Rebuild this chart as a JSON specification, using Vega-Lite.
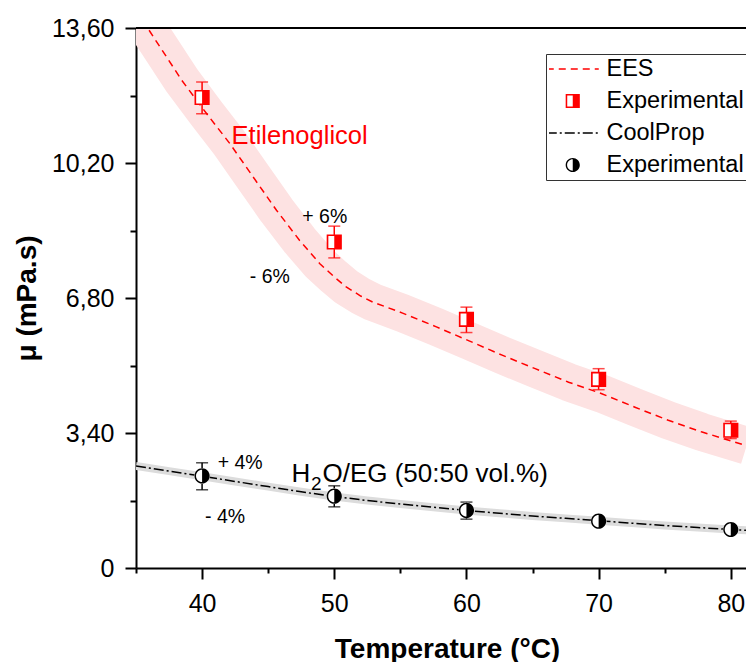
{
  "$schema": "https://vega.github.io/schema/vega-lite/v6.json",
  "width": 610,
  "height": 540,
  "autosize": {"type": "none"},
  "padding": {"left": 136, "top": 28, "right": 0, "bottom": 94},
  "background": "white",
  "config": {
    "view": {"stroke": null},
    "font": "Liberation Sans",
    "axis": {"grid": false, "domainColor": "black", "domainWidth": 2, "tickColor": "black", "tickWidth": 2, "labelColor": "black", "titleColor": "black", "labelFont": "Liberation Sans", "titleFont": "Liberation Sans"},
    "legend": {"orient": "none", "legendX": 410, "legendY": 26, "strokeColor": "#333333", "fillColor": "white", "padding": 3, "symbolSize": 2704, "symbolStrokeWidth": 1.5, "symbolOffset": 12, "clipHeight": 24, "rowPadding": 8, "labelOffset": 22, "labelFont": "Liberation Sans", "labelFontSize": 23.5, "labelColor": "black", "labelLimit": 400}
  },
  "datasets": {
    "ees": [
      {"T": 35, "v": 14.05, "series": "EES"},
      {"T": 36.33, "v": 13.37, "series": "EES"},
      {"T": 38.47, "v": 12.28, "series": "EES"},
      {"T": 40.35, "v": 11.44, "series": "EES"},
      {"T": 42.1, "v": 10.69, "series": "EES"},
      {"T": 43.86, "v": 9.85, "series": "EES"},
      {"T": 45.63, "v": 9.01, "series": "EES"},
      {"T": 47.38, "v": 8.25, "series": "EES"},
      {"T": 48.89, "v": 7.67, "series": "EES"},
      {"T": 50.0, "v": 7.33, "series": "EES"},
      {"T": 50.9, "v": 7.08, "series": "EES"},
      {"T": 52.0, "v": 6.85, "series": "EES"},
      {"T": 52.9, "v": 6.70, "series": "EES"},
      {"T": 55.17, "v": 6.42, "series": "EES"},
      {"T": 57.68, "v": 6.08, "series": "EES"},
      {"T": 60.2, "v": 5.72, "series": "EES"},
      {"T": 62.7, "v": 5.36, "series": "EES"},
      {"T": 65.2, "v": 5.02, "series": "EES"},
      {"T": 67.73, "v": 4.68, "series": "EES"},
      {"T": 70.24, "v": 4.39, "series": "EES"},
      {"T": 72.75, "v": 4.05, "series": "EES"},
      {"T": 75.27, "v": 3.72, "series": "EES"},
      {"T": 77.77, "v": 3.43, "series": "EES"},
      {"T": 81.2, "v": 3.08, "series": "EES"}
    ],
    "cp": [
      {"T": 35, "v": 2.57, "series": "CoolProp"},
      {"T": 37.5, "v": 2.44, "series": "CoolProp"},
      {"T": 40, "v": 2.31, "series": "CoolProp"},
      {"T": 42.5, "v": 2.18, "series": "CoolProp"},
      {"T": 45, "v": 2.05, "series": "CoolProp"},
      {"T": 47.5, "v": 1.92, "series": "CoolProp"},
      {"T": 50, "v": 1.80, "series": "CoolProp"},
      {"T": 52.5, "v": 1.70, "series": "CoolProp"},
      {"T": 55, "v": 1.61, "series": "CoolProp"},
      {"T": 57.5, "v": 1.53, "series": "CoolProp"},
      {"T": 60, "v": 1.45, "series": "CoolProp"},
      {"T": 62.5, "v": 1.38, "series": "CoolProp"},
      {"T": 65, "v": 1.31, "series": "CoolProp"},
      {"T": 67.5, "v": 1.25, "series": "CoolProp"},
      {"T": 70, "v": 1.19, "series": "CoolProp"},
      {"T": 72.5, "v": 1.13, "series": "CoolProp"},
      {"T": 75, "v": 1.07, "series": "CoolProp"},
      {"T": 77.5, "v": 1.02, "series": "CoolProp"},
      {"T": 80, "v": 0.97, "series": "CoolProp"},
      {"T": 81.2, "v": 0.95, "series": "CoolProp"}
    ],
    "exp": [
      {"T": 40, "v": 11.85, "lo": 11.44, "hi": 12.24, "series": "ExpEG"},
      {"T": 50, "v": 8.21, "lo": 7.81, "hi": 8.61, "series": "ExpEG"},
      {"T": 60, "v": 6.26, "lo": 5.93, "hi": 6.57, "series": "ExpEG"},
      {"T": 70, "v": 4.75, "lo": 4.49, "hi": 5.02, "series": "ExpEG"},
      {"T": 80, "v": 3.47, "lo": 3.26, "hi": 3.70, "series": "ExpEG"},
      {"T": 40, "v": 2.32, "lo": 1.97, "hi": 2.65, "series": "ExpW"},
      {"T": 50, "v": 1.81, "lo": 1.54, "hi": 2.07, "series": "ExpW"},
      {"T": 60, "v": 1.45, "lo": 1.23, "hi": 1.66, "series": "ExpW"},
      {"T": 70, "v": 1.18, "lo": 1.12, "hi": 1.24, "series": "ExpW"},
      {"T": 80, "v": 0.97, "lo": 0.93, "hi": 1.01, "series": "ExpW"}
    ]
  },
  "layer": [
    {
      "data": {"name": "ees"},
      "mark": {"type": "line", "color": "#fde2e2", "strokeWidth": 38, "clip": true, "strokeJoin": "round"},
      "encoding": {
        "x": {"field": "T", "type": "quantitative", "scale": {"domain": [35, 81.15], "nice": false, "zero": false},
          "title": "Temperature (°C)",
          "axis": {"values": [35, 40, 45, 50, 55, 60, 65, 70, 75, 80], "labelExpr": "datum.value % 10 == 0 ? datum.label : ''", "tickSize": {"condition": {"test": "datum.value % 10 == 0", "value": 11}, "value": 5}, "labelFontSize": 25, "labelPadding": 12, "titleFontSize": 28, "titleFontWeight": "bold", "titleX": 311, "titleY": 89, "titleBaseline": "alphabetic", "titleAlign": "center"}},
        "y": {"field": "v", "type": "quantitative", "scale": {"domain": [0, 13.6], "nice": false, "zero": false},
          "title": "μ (mPa.s)",
          "axis": {"values": [0, 1.7, 3.4, 5.1, 6.8, 8.5, 10.2, 11.9, 13.6], "labelExpr": "abs(datum.value/3.4 - round(datum.value/3.4)) < 0.01 ? (datum.value == 0 ? '0' : replace(format(datum.value, '.2f'), '.', ',')) : ''", "tickSize": {"condition": {"test": "abs(datum.value/3.4 - round(datum.value/3.4)) < 0.01", "value": 11}, "value": 6}, "labelFontSize": 25, "labelPadding": 11, "titleFontSize": 28, "titleFontWeight": "bold", "titleX": -101, "titleY": 270, "titleAngle": 270, "titleBaseline": "alphabetic", "titleAlign": "center"}}
      }
    },
    {
      "data": {"name": "cp"},
      "mark": {"type": "line", "color": "#dcdcdc", "strokeWidth": 8, "clip": true},
      "encoding": {
        "x": {"field": "T", "type": "quantitative", "title": "Temperature (°C)"},
        "y": {"field": "v", "type": "quantitative", "title": "μ (mPa.s)"}
      }
    },
    {
      "data": {"name": "ees"},
      "mark": {"type": "line", "strokeWidth": 1.5, "clip": true},
      "encoding": {
        "x": {"field": "T", "type": "quantitative", "title": "Temperature (°C)"},
        "y": {"field": "v", "type": "quantitative", "title": "μ (mPa.s)"},
        "color": {"field": "series", "type": "nominal", "scale": {"domain": ["EES", "ExpEG", "CoolProp", "ExpW"], "range": ["#ff0000", "#ff0000", "#000000", "#000000"]},
          "legend": {"title": null, "labelExpr": "datum.value == 'ExpEG' || datum.value == 'ExpW' ? 'Experimental' : datum.value", "encode": {"symbols": {"update": {"fill": {"signal": "indexof(['EES','CoolProp'], datum.value) >= 0 ? 'transparent' : scale('color', datum.value)"}, "stroke": {"signal": "scale('color', datum.value)"}, "strokeWidth": {"signal": "indexof(['EES','CoolProp'], datum.value) >= 0 ? 1.5 : 0"}, "size": {"signal": "indexof(['EES','CoolProp'], datum.value) >= 0 ? 2704 : 200"}, "opacity": {"value": 1}}}}}},
        "strokeDash": {"field": "series", "type": "nominal", "scale": {"domain": ["EES", "ExpEG", "CoolProp", "ExpW"], "range": [[7, 5], [1, 0], [10, 3, 2, 3], [1, 0]]},
          "legend": {"title": null, "labelExpr": "datum.value == 'ExpEG' || datum.value == 'ExpW' ? 'Experimental' : datum.value", "encode": {"symbols": {"update": {"fill": {"signal": "indexof(['EES','CoolProp'], datum.value) >= 0 ? 'transparent' : scale('color', datum.value)"}, "stroke": {"signal": "scale('color', datum.value)"}, "strokeWidth": {"signal": "indexof(['EES','CoolProp'], datum.value) >= 0 ? 1.5 : 0"}, "size": {"signal": "indexof(['EES','CoolProp'], datum.value) >= 0 ? 2704 : 200"}, "opacity": {"value": 1}}}}}}
      }
    },
    {
      "data": {"name": "cp"},
      "mark": {"type": "line", "strokeWidth": 1.5, "clip": true},
      "encoding": {
        "x": {"field": "T", "type": "quantitative", "title": "Temperature (°C)"},
        "y": {"field": "v", "type": "quantitative", "title": "μ (mPa.s)"},
        "color": {"field": "series", "type": "nominal", "scale": {"domain": ["EES", "ExpEG", "CoolProp", "ExpW"], "range": ["#ff0000", "#ff0000", "#000000", "#000000"]},
          "legend": {"title": null, "labelExpr": "datum.value == 'ExpEG' || datum.value == 'ExpW' ? 'Experimental' : datum.value", "encode": {"symbols": {"update": {"fill": {"signal": "indexof(['EES','CoolProp'], datum.value) >= 0 ? 'transparent' : scale('color', datum.value)"}, "stroke": {"signal": "scale('color', datum.value)"}, "strokeWidth": {"signal": "indexof(['EES','CoolProp'], datum.value) >= 0 ? 1.5 : 0"}, "size": {"signal": "indexof(['EES','CoolProp'], datum.value) >= 0 ? 2704 : 200"}, "opacity": {"value": 1}}}}}},
        "strokeDash": {"field": "series", "type": "nominal", "scale": {"domain": ["EES", "ExpEG", "CoolProp", "ExpW"], "range": [[7, 5], [1, 0], [10, 3, 2, 3], [1, 0]]},
          "legend": {"title": null, "labelExpr": "datum.value == 'ExpEG' || datum.value == 'ExpW' ? 'Experimental' : datum.value", "encode": {"symbols": {"update": {"fill": {"signal": "indexof(['EES','CoolProp'], datum.value) >= 0 ? 'transparent' : scale('color', datum.value)"}, "stroke": {"signal": "scale('color', datum.value)"}, "strokeWidth": {"signal": "indexof(['EES','CoolProp'], datum.value) >= 0 ? 1.5 : 0"}, "size": {"signal": "indexof(['EES','CoolProp'], datum.value) >= 0 ? 2704 : 200"}, "opacity": {"value": 1}}}}}}
      }
    },
    {
      "data": {"name": "exp"},
      "mark": {"type": "rule", "strokeWidth": 1.5},
      "encoding": {
        "x": {"field": "T", "type": "quantitative", "title": "Temperature (°C)"},
        "y": {"field": "lo", "type": "quantitative", "title": "μ (mPa.s)"},
        "y2": {"field": "hi"},
        "color": {"field": "series", "type": "nominal", "scale": {"domain": ["EES", "ExpEG", "CoolProp", "ExpW"], "range": ["#ff0000", "#ff0000", "#000000", "#000000"]},
          "legend": {"title": null, "labelExpr": "datum.value == 'ExpEG' || datum.value == 'ExpW' ? 'Experimental' : datum.value", "encode": {"symbols": {"update": {"fill": {"signal": "indexof(['EES','CoolProp'], datum.value) >= 0 ? 'transparent' : scale('color', datum.value)"}, "stroke": {"signal": "scale('color', datum.value)"}, "strokeWidth": {"signal": "indexof(['EES','CoolProp'], datum.value) >= 0 ? 1.5 : 0"}, "size": {"signal": "indexof(['EES','CoolProp'], datum.value) >= 0 ? 2704 : 200"}, "opacity": {"value": 1}}}}}}
      }
    },
    {
      "data": {"name": "exp"},
      "mark": {"type": "tick", "orient": "horizontal", "size": 12, "thickness": 1.5},
      "encoding": {
        "x": {"field": "T", "type": "quantitative", "title": "Temperature (°C)"},
        "y": {"field": "lo", "type": "quantitative", "title": "μ (mPa.s)"},
        "color": {"field": "series", "type": "nominal", "scale": {"domain": ["EES", "ExpEG", "CoolProp", "ExpW"], "range": ["#ff0000", "#ff0000", "#000000", "#000000"]},
          "legend": {"title": null, "labelExpr": "datum.value == 'ExpEG' || datum.value == 'ExpW' ? 'Experimental' : datum.value", "encode": {"symbols": {"update": {"fill": {"signal": "indexof(['EES','CoolProp'], datum.value) >= 0 ? 'transparent' : scale('color', datum.value)"}, "stroke": {"signal": "scale('color', datum.value)"}, "strokeWidth": {"signal": "indexof(['EES','CoolProp'], datum.value) >= 0 ? 1.5 : 0"}, "size": {"signal": "indexof(['EES','CoolProp'], datum.value) >= 0 ? 2704 : 200"}, "opacity": {"value": 1}}}}}}
      }
    },
    {
      "data": {"name": "exp"},
      "mark": {"type": "tick", "orient": "horizontal", "size": 12, "thickness": 1.5},
      "encoding": {
        "x": {"field": "T", "type": "quantitative", "title": "Temperature (°C)"},
        "y": {"field": "hi", "type": "quantitative", "title": "μ (mPa.s)"},
        "color": {"field": "series", "type": "nominal", "scale": {"domain": ["EES", "ExpEG", "CoolProp", "ExpW"], "range": ["#ff0000", "#ff0000", "#000000", "#000000"]},
          "legend": {"title": null, "labelExpr": "datum.value == 'ExpEG' || datum.value == 'ExpW' ? 'Experimental' : datum.value", "encode": {"symbols": {"update": {"fill": {"signal": "indexof(['EES','CoolProp'], datum.value) >= 0 ? 'transparent' : scale('color', datum.value)"}, "stroke": {"signal": "scale('color', datum.value)"}, "strokeWidth": {"signal": "indexof(['EES','CoolProp'], datum.value) >= 0 ? 1.5 : 0"}, "size": {"signal": "indexof(['EES','CoolProp'], datum.value) >= 0 ? 2704 : 200"}, "opacity": {"value": 1}}}}}}
      }
    },
    {
      "data": {"name": "exp"},
      "transform": [{"filter": "datum.series == 'ExpEG'"}],
      "mark": {"type": "point", "shape": "square", "filled": true, "color": "white", "size": 200, "opacity": 1},
      "encoding": {
        "x": {"field": "T", "type": "quantitative", "title": "Temperature (°C)"},
        "y": {"field": "v", "type": "quantitative", "title": "μ (mPa.s)"}
      }
    },
    {
      "data": {"name": "exp"},
      "transform": [{"filter": "datum.series == 'ExpW'"}],
      "mark": {"type": "point", "shape": "circle", "filled": true, "color": "white", "size": 250, "opacity": 1},
      "encoding": {
        "x": {"field": "T", "type": "quantitative", "title": "Temperature (°C)"},
        "y": {"field": "v", "type": "quantitative", "title": "μ (mPa.s)"}
      }
    },
    {
      "data": {"name": "exp"},
      "mark": {"type": "point", "filled": true, "size": 230, "opacity": 1, "strokeWidth": 0},
      "encoding": {
        "x": {"field": "T", "type": "quantitative", "title": "Temperature (°C)"},
        "y": {"field": "v", "type": "quantitative", "title": "μ (mPa.s)"},
        "color": {"field": "series", "type": "nominal", "scale": {"domain": ["EES", "ExpEG", "CoolProp", "ExpW"], "range": ["#ff0000", "#ff0000", "#000000", "#000000"]},
          "legend": {"title": null, "labelExpr": "datum.value == 'ExpEG' || datum.value == 'ExpW' ? 'Experimental' : datum.value", "encode": {"symbols": {"update": {"fill": {"signal": "indexof(['EES','CoolProp'], datum.value) >= 0 ? 'transparent' : scale('color', datum.value)"}, "stroke": {"signal": "scale('color', datum.value)"}, "strokeWidth": {"signal": "indexof(['EES','CoolProp'], datum.value) >= 0 ? 1.5 : 0"}, "size": {"signal": "indexof(['EES','CoolProp'], datum.value) >= 0 ? 2704 : 200"}, "opacity": {"value": 1}}}}}},
        "shape": {"field": "series", "type": "nominal", "scale": {"domain": ["EES", "ExpEG", "CoolProp", "ExpW"], "range": ["stroke", "M-1,-1 L1,-1 L1,1 L-1,1 Z M-0.78,-0.78 L-0.78,0.78 L0.78,0.78 L0.78,-0.78 Z M0,-0.78 L0.78,-0.78 L0.78,0.78 L0,0.78 Z", "stroke", "M-1,0 A1,1 0 1,0 1,0 A1,1 0 1,0 -1,0 Z M-0.8,0 A0.8,0.8 0 1,1 0.8,0 A0.8,0.8 0 1,1 -0.8,0 Z M0,-0.8 L0,0.8 A0.8,0.8 0 0,0 0,-0.8 Z"]},
          "legend": {"title": null, "labelExpr": "datum.value == 'ExpEG' || datum.value == 'ExpW' ? 'Experimental' : datum.value", "encode": {"symbols": {"update": {"fill": {"signal": "indexof(['EES','CoolProp'], datum.value) >= 0 ? 'transparent' : scale('color', datum.value)"}, "stroke": {"signal": "scale('color', datum.value)"}, "strokeWidth": {"signal": "indexof(['EES','CoolProp'], datum.value) >= 0 ? 1.5 : 0"}, "size": {"signal": "indexof(['EES','CoolProp'], datum.value) >= 0 ? 2704 : 200"}, "opacity": {"value": 1}}}}}}
      }
    },
    {
      "data": {"values": [{"top": 13.6}]},
      "mark": {"type": "rule", "color": "black", "strokeWidth": 2},
      "encoding": {
        "y": {"field": "top", "type": "quantitative", "title": "μ (mPa.s)"}
      }
    },
    {
      "data": {"values": [{"T": 42.23, "v": 10.69, "label": "Etilenoglicol"}]},
      "mark": {"type": "text", "align": "left", "baseline": "alphabetic", "fontSize": 25.5, "color": "#ff0000", "font": "Liberation Sans"},
      "encoding": {
        "x": {"field": "T", "type": "quantitative", "title": "Temperature (°C)"},
        "y": {"field": "v", "type": "quantitative", "title": "μ (mPa.s)"},
        "text": {"field": "label"}
      }
    },
    {
      "data": {"values": [
        {"T": 47.58, "v": 8.69, "label": "+ 6%"},
        {"T": 43.61, "v": 7.18, "label": "- 6%"},
        {"T": 41.18, "v": 2.50, "label": "+ 4%"},
        {"T": 40.22, "v": 1.13, "label": "- 4%"}
      ]},
      "mark": {"type": "text", "align": "left", "baseline": "alphabetic", "fontSize": 19.5, "color": "black", "font": "Liberation Sans"},
      "encoding": {
        "x": {"field": "T", "type": "quantitative", "title": "Temperature (°C)"},
        "y": {"field": "v", "type": "quantitative", "title": "μ (mPa.s)"},
        "text": {"field": "label"}
      }
    },
    {
      "data": {"values": [{"T": 46.76, "v": 2.166, "label": "H"}]},
      "mark": {"type": "text", "align": "left", "baseline": "alphabetic", "fontSize": 26, "color": "black", "font": "Liberation Sans"},
      "encoding": {
        "x": {"field": "T", "type": "quantitative", "title": "Temperature (°C)"},
        "y": {"field": "v", "type": "quantitative", "title": "μ (mPa.s)"},
        "text": {"field": "label"}
      }
    },
    {
      "data": {"values": [{"T": 46.76, "v": 2.166, "label": "2"}]},
      "mark": {"type": "text", "align": "left", "baseline": "alphabetic", "fontSize": 19, "dx": 19.5, "dy": 8, "color": "black", "font": "Liberation Sans"},
      "encoding": {
        "x": {"field": "T", "type": "quantitative", "title": "Temperature (°C)"},
        "y": {"field": "v", "type": "quantitative", "title": "μ (mPa.s)"},
        "text": {"field": "label"}
      }
    },
    {
      "data": {"values": [{"T": 46.76, "v": 2.166, "label": "O/EG (50:50 vol.%)"}]},
      "mark": {"type": "text", "align": "left", "baseline": "alphabetic", "fontSize": 26, "dx": 31, "color": "black", "font": "Liberation Sans"},
      "encoding": {
        "x": {"field": "T", "type": "quantitative", "title": "Temperature (°C)"},
        "y": {"field": "v", "type": "quantitative", "title": "μ (mPa.s)"},
        "text": {"field": "label"}
      }
    }
  ]
}
